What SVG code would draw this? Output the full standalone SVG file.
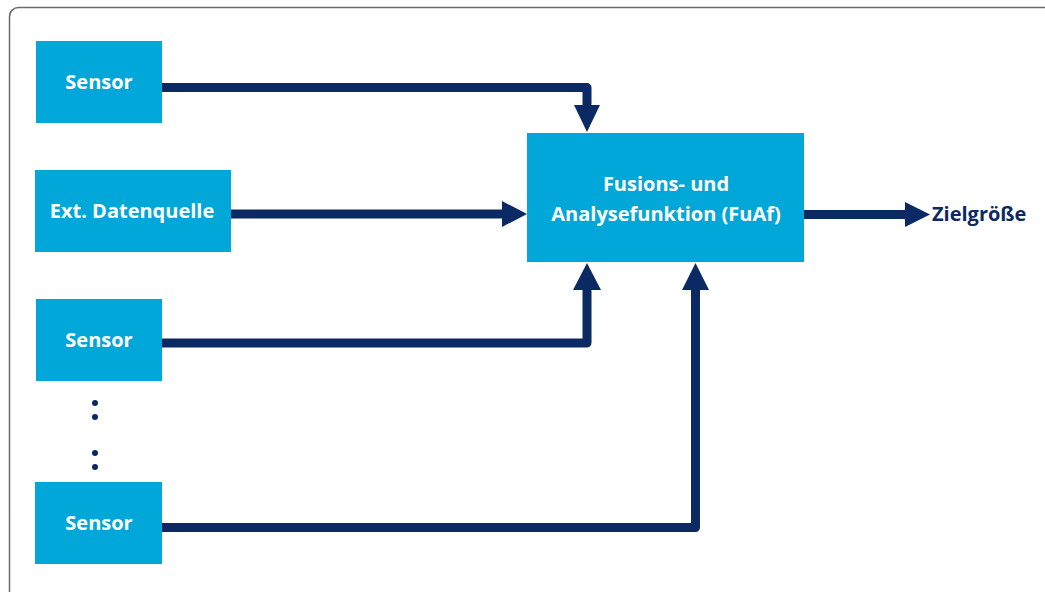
<svg xmlns="http://www.w3.org/2000/svg" width="1045" height="592" viewBox="0 0 1045 592">
<defs>
<style>
.box{fill:#00A7D8;}
.lbl{font-family:"Open Sans","Liberation Sans",sans-serif;font-weight:bold;font-size:20px;fill:#ffffff;text-anchor:middle;}
.out{font-family:"Open Sans","Liberation Sans",sans-serif;font-weight:bold;font-size:20px;fill:#0B2A63;}
.ln{fill:none;stroke:#0B2A63;stroke-width:9;stroke-linejoin:round;}
.ah{fill:#0B2A63;}
</style>
</defs>
<rect x="9.5" y="7.5" width="1100" height="700" rx="9" fill="#ffffff" stroke="#6b6b6b" stroke-width="1.5"/>
<g id="sensor1"><rect class="box" x="36" y="41" width="126" height="82"/><text class="lbl" x="99" y="89">Sensor</text></g>
<g id="ext"><rect class="box" x="35" y="170" width="196" height="82"/><text class="lbl" x="132" y="218">Ext. Datenquelle</text></g>
<g id="sensor2"><rect class="box" x="36" y="299" width="126" height="82"/><text class="lbl" x="99" y="347">Sensor</text></g>
<g id="sensor3"><rect class="box" x="35" y="482" width="127" height="82"/><text class="lbl" x="99" y="530">Sensor</text></g>
<g id="fuaf"><rect class="box" x="527" y="133" width="277" height="129"/><text class="lbl" x="666" y="191">Fusions- und</text><text class="lbl" x="666" y="221">Analysefunktion (FuAf)</text></g>
<g id="dots" fill="#0B2A63"><circle cx="95" cy="403" r="3"/><circle cx="95" cy="417" r="3"/><circle cx="95" cy="453" r="3"/><circle cx="95" cy="467" r="3"/></g>
<g id="connectors">
<path class="ln" d="M162 87.5 H587 V106"/>
<polygon class="ah" points="574,105 600,105 587,132"/>
<path class="ln" d="M231 214 H504"/>
<polygon class="ah" points="502,201 502,227 527,214"/>
<path class="ln" d="M162 343 H587 V288"/>
<polygon class="ah" points="573,290 601,290 587,263"/>
<path class="ln" d="M162 527.5 H695.5 V288"/>
<polygon class="ah" points="682,290 709,290 695.5,263"/>
<path class="ln" d="M804 214.5 H907"/>
<polygon class="ah" points="905,202 905,227 930,214.5"/>
</g>
<text class="out" x="932" y="221">Zielgröße</text>
</svg>
